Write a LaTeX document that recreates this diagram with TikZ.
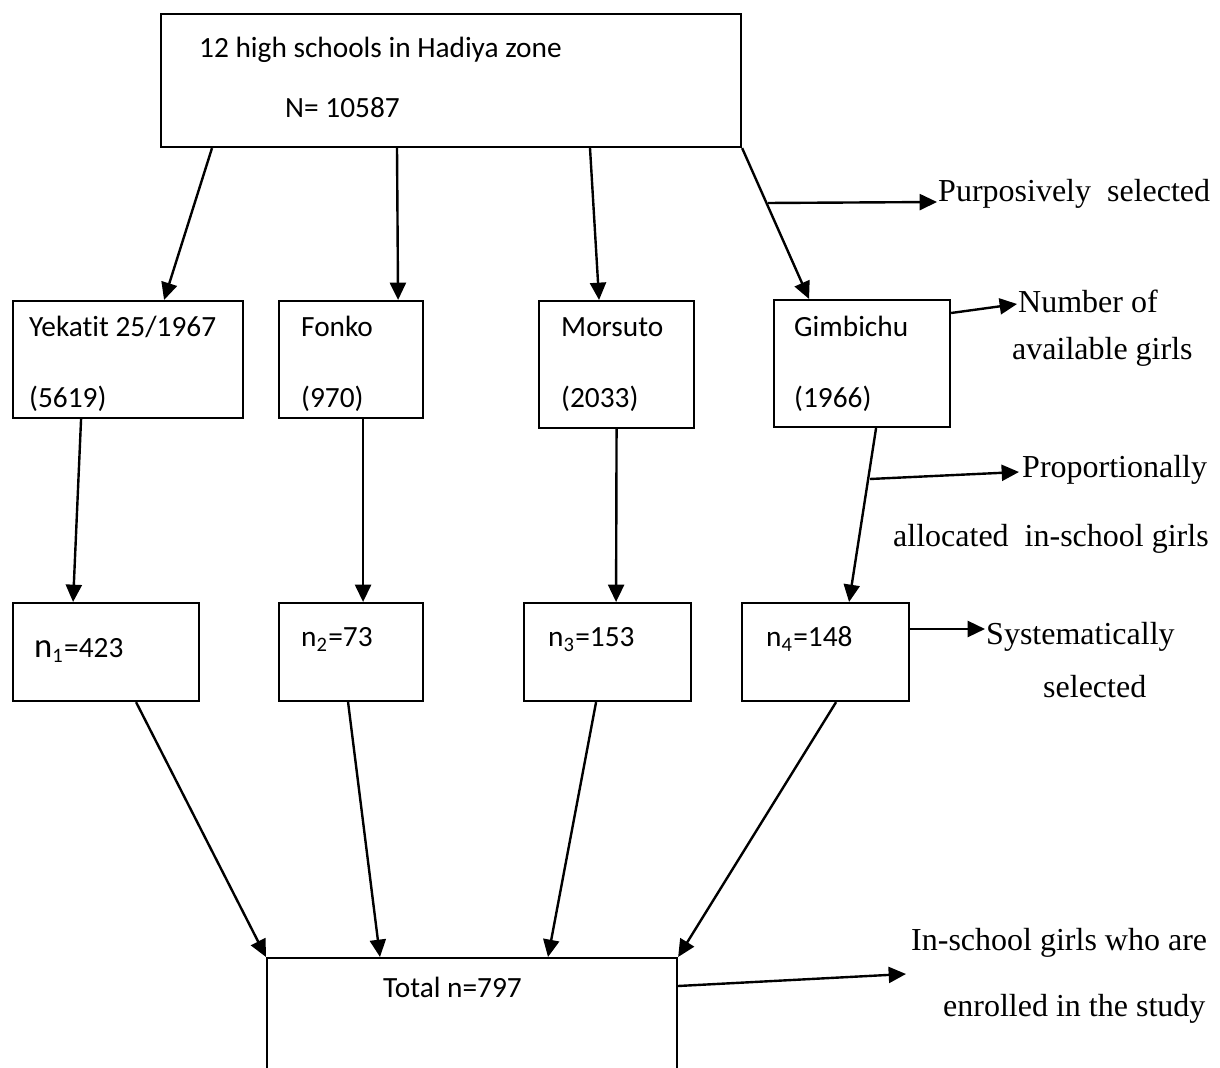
\documentclass[tikz,border=0pt]{standalone}
\usepackage{fontspec}
\setmainfont{Liberation Serif}
\newfontfamily\calib[Ligatures=NoCommon]{Carlito}
\usetikzlibrary{arrows.meta, calc}

\begin{document}
\begin{tikzpicture}[x=0.375pt, y=-0.375pt, >={Triangle[length=6.5pt, width=6pt]}, line width=0.9pt,
  school/.style={draw, line width=0.8pt, anchor=north west, inner sep=0pt},
  txt/.style={anchor=base west, inner sep=0pt, font=\calib\fontsize{11}{13}\selectfont},
  note/.style={anchor=base west, inner sep=0pt, font=\fontsize{12}{14}\selectfont}]
\useasboundingbox (0,0) rectangle (1220,1068);
\clip (0,0) rectangle (1220,1068);
\node[school, minimum width=217.5pt, minimum height=49.875pt] (top) at (160,13) {};
\node[school, minimum width=86.25pt, minimum height=43.875pt] (yek) at (12,300) {};
\node[school, minimum width=54pt, minimum height=43.875pt] (fon) at (278,300) {};
\node[school, minimum width=58.125pt, minimum height=47.625pt] (mor) at (538,300) {};
\node[school, minimum width=66pt, minimum height=47.625pt] (gim) at (773,299) {};
\node[school, minimum width=69.75pt, minimum height=36.75pt] (n1) at (12,602) {};
\node[school, minimum width=54pt, minimum height=36.75pt] (n2) at (278,602) {};
\node[school, minimum width=62.625pt, minimum height=36.75pt] (n3) at (523,602) {};
\node[school, minimum width=62.625pt, minimum height=36.75pt] (n4) at (741,602) {};
\node[school, minimum width=153.75pt, minimum height=75pt] (tot) at (266,957) {};

\node[txt] (topa) at (198,58) {12 high schools in Hadiya zone};
\node[txt] (topb) at (284,118) {N= 10587};
\node[txt] (yeka) at (28,337) {Yekatit 25/1967};
\node[txt] (yekb) at (28,408) {(5619)};
\node[txt] (fona) at (300,337) {Fonko};
\node[txt] (fonb) at (300,408) {(970)};
\node[txt] (mora) at (560,337) {Morsuto};
\node[txt] (morb) at (560,408) {(2033)};
\node[txt] (gima) at (793,337) {Gimbichu};
\node[txt] (gimb) at (793,408) {(1966)};
\node[txt] (n1t) at (33,658) {{\fontsize{13}{13}\selectfont n}\textsubscript{1}=423};
\node[txt] (n2t) at (300,647) {n\textsubscript{2}=73};
\node[txt] (n3t) at (547,647) {n\textsubscript{3}=153};
\node[txt] (n4t) at (765,647) {n\textsubscript{4}=148};
\node[txt] (tott) at (382,997) {Total n=797};

\node[note] (ps) at (937,202) {Purposively\ \ selected};
\node[note] (nb1) at (1017,313) {Number of};
\node[note] (nb2) at (1011,360) {available girls};
\node[note] (pr1) at (1021,478) {Proportionally};
\node[note] (pr2) at (892,547) {allocated\ \ in-school girls};
\node[note] (sy1) at (985,645) {Systematically};
\node[note] (sy2) at (1042,698) {selected};
\node[note] (en1) at (910,950) {In-school girls who are};
\node[note] (en2) at (942,1016) {enrolled in the study};

\draw[->] ($(top.south west)+(52,0)$) -- ($(yek.north)+(36,0)$);
\draw[->] ($(top.south west)+(237,0)$) -- ($(fon.north)+(47,0)$);
\draw[->] ($(top.south west)+(430,0)$) -- ($(mor.north)+(-17.5,0)$);
\draw[->] (top.south east) -- ($(gim.north)+(-53,0)$);
\draw[->] ($(yek.south)+(-47,0)$) -- ($(n1.north)+(-33,0)$);
\draw[->] ($(fon.south)+(12,0)$) -- ($(n2.north)+(12,0)$);
\draw[->] (mor.south) -- ($(n3.north)+(8.5,0)$);
\draw[->] ($(gim.south)+(14,0)$) -- ($(n4.north)+(23.5,0)$);
\draw[->] ($(n1.south)+(30,0)$) -- (tot.north west);
\draw[->] ($(n2.south)+(-3,0)$) -- ($(tot.north west)+(114,0)$);
\draw[->] ($(n3.south)+(-11.5,0)$) -- ($(tot.north west)+(282,0)$);
\draw[->] ($(n4.south)+(10.5,0)$) -- (tot.north east);

\coordinate (psfrom) at (768,203);
\coordinate (prfrom) at (870,479);
\draw[->] (psfrom) -- (ps.base west);
\draw[->] ($(gim.north east)+(0,14)$) -- ($(nb1.base west)+(0,-9)$);
\draw[->] (prfrom) -- ($(pr1.base west)+(-2,-6)$);
\draw[->] ($(n4.north east)+(0,27)$) -- ($(sy1.base west)+(0,-16)$);
\draw[->] ($(tot.north east)+(0,29)$) -- ($(en1.base west)+(-4,24)$);
\end{tikzpicture}
\end{document}
